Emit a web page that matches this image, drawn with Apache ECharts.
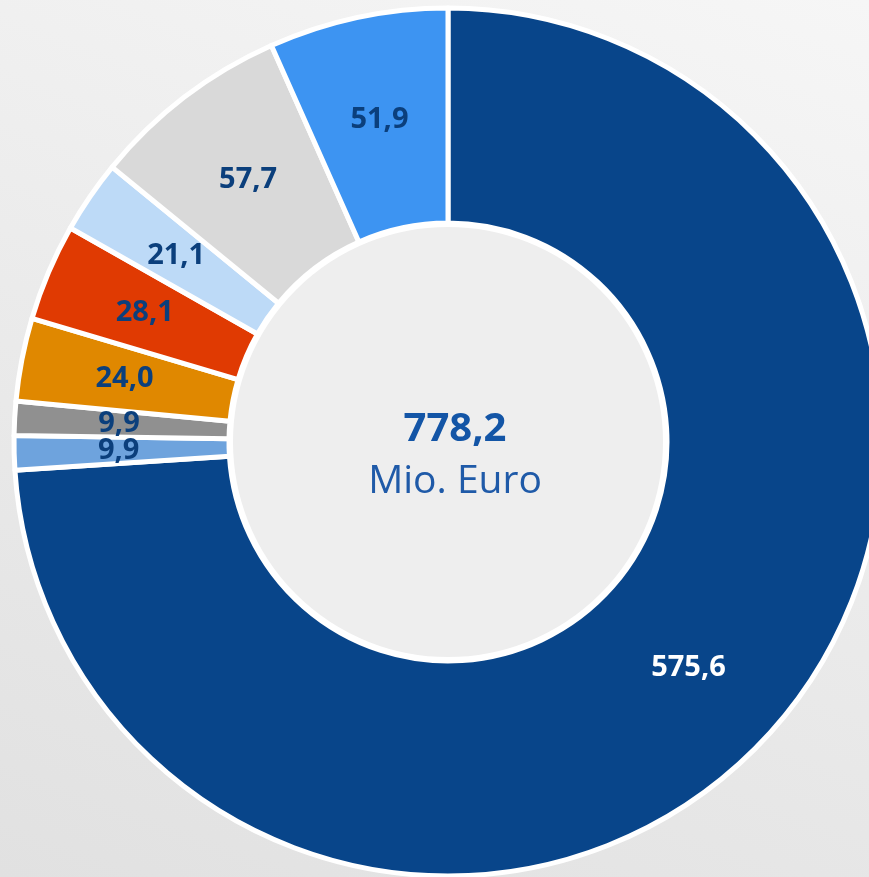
<!DOCTYPE html>
<html>
<head>
<meta charset="utf-8">
<script src="https://cdn.jsdelivr.net/npm/echarts@6/dist/echarts.min.js"></script>
<style>
  html, body { margin: 0; padding: 0; }
  #chart {
    width: 869px;
    height: 877px;
    background: linear-gradient(200deg, #f6f6f6 0%, #ebebeb 50%, #e1e1e1 100%);
  }
</style>
</head>
<body>
<div id="chart"></div>
<script>
// Werte in Mio. Euro, im Uhrzeigersinn ab 12 Uhr
const values = [575.6, 9.9, 9.9, 24.0, 28.1, 21.1, 57.7, 51.9];
const colors = ['#08458a', '#6ea3dd', '#909090', '#e08800', '#e03a02', '#bddaf7', '#d9d9d9', '#3d94f2'];
const labelColors = ['#ffffff', '#0b3f7c', '#0b3f7c', '#0b3f7c', '#0b3f7c', '#0b3f7c', '#0b3f7c', '#0b3f7c'];
const totalLabel = '778,2';
const unitLabel = 'Mio. Euro';

const fmt = v => v.toFixed(1).replace('.', ',');

const myChart = echarts.init(document.getElementById('chart'));
myChart.setOption({
  animation: false,
  series: [
    {
      // innerer Kreis mit Summe
      type: 'pie',
      silent: true,
      center: [448, 442],
      radius: [0, 217],
      label: {
        show: true,
        position: 'center',
        formatter: '{s| }\n{a|' + totalLabel + '}\n{b|' + unitLabel + '}',
        rich: {
          s: { fontSize: 1, lineHeight: 28, height: 28 },
          a: { fontFamily: 'Open Sans', fontWeight: 'bold', fontSize: 40, color: '#1355a6', lineHeight: 52, padding: [0, 0, 0, 14] },
          b: { fontFamily: 'Open Sans', fontSize: 39, color: '#1f5aa8', lineHeight: 52, padding: [0, 0, 0, 14] }
        }
      },
      labelLine: { show: false },
      itemStyle: { color: '#eeeeee', borderColor: '#ffffff', borderWidth: 4 },
      data: [{ value: 1 }]
    },
    {
      type: 'pie',
      center: [448, 442],
      radius: [219, 434],
      startAngle: 90,
      clockwise: true,
      avoidLabelOverlap: false,
      labelLayout: { hideOverlap: false },
      itemStyle: { borderColor: '#ffffff', borderWidth: 5 },
      label: {
        show: true,
        position: 'inside',
        fontFamily: 'Open Sans',
        fontWeight: 'bold',
        fontSize: 29,
        padding: [10, 0, 0, 0],
        formatter: p => fmt(p.value)
      },
      labelLine: { show: false },
      data: values.map((v, i) => ({
        value: v,
        itemStyle: { color: colors[i] },
        label: { color: labelColors[i] }
      }))
    }
  ]
});
</script>
</body>
</html>
